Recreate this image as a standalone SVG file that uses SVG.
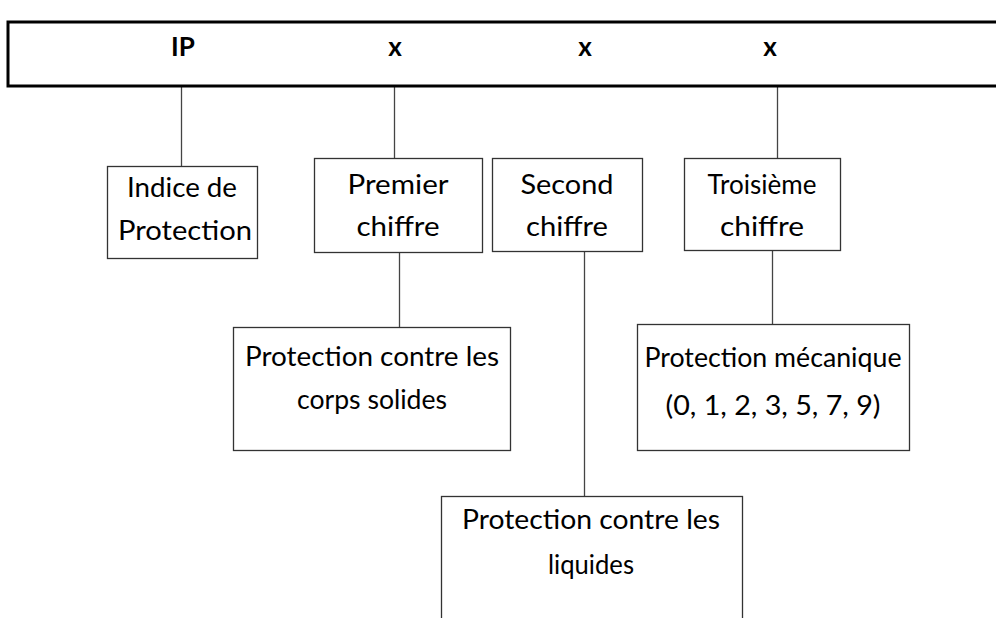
<svg xmlns="http://www.w3.org/2000/svg" width="996" height="618" viewBox="0 0 996 618">
<style>
.box{fill:#fff;stroke:#333;stroke-width:1.3}
.top{fill:#fff;stroke:#000;stroke-width:3}
.t{font-family:Lato,"Open Sans",sans-serif;font-size:26px;fill:#000;text-anchor:middle}
.b{font-family:Lato,"Open Sans",sans-serif;font-size:26px;font-weight:bold;fill:#000;text-anchor:middle}
.c{stroke:#444;stroke-width:1.3;fill:none}
</style>
<rect width="996" height="618" fill="#fff"/>
<g id="connectors">
<line class="c" x1="181.5" y1="86" x2="181.5" y2="166"/>
<line class="c" x1="394.5" y1="86" x2="394.5" y2="158"/>
<line class="c" x1="777.5" y1="86" x2="777.5" y2="158"/>
<line class="c" x1="399.5" y1="252" x2="399.5" y2="327"/>
<line class="c" x1="584.5" y1="251" x2="584.5" y2="496"/>
<line class="c" x1="772.5" y1="250" x2="772.5" y2="324"/>
</g>
<g id="ipbar">
<rect class="top" x="8" y="22" width="1000" height="64"/>
<text class="b" x="183" y="56">IP</text>
<text class="b" x="395" y="56">x</text>
<text class="b" x="585" y="56">x</text>
<text class="b" x="770" y="56">x</text>
</g>
<g id="indice">
<rect class="box" x="107.5" y="166.5" width="150" height="92"/>
<text class="t" x="182" y="197" textLength="110" lengthAdjust="spacingAndGlyphs">Indice de</text>
<text class="t" x="185" y="240" textLength="134" lengthAdjust="spacingAndGlyphs">Protection</text>
</g>
<g id="premier">
<rect class="box" x="314.5" y="158.5" width="168" height="94"/>
<text class="t" x="398" y="194" textLength="101" lengthAdjust="spacingAndGlyphs">Premier</text>
<text class="t" x="398" y="236" textLength="83" lengthAdjust="spacingAndGlyphs">chiffre</text>
</g>
<g id="second">
<rect class="box" x="492.5" y="158.5" width="150" height="93"/>
<text class="t" x="567" y="194" textLength="93" lengthAdjust="spacingAndGlyphs">Second</text>
<text class="t" x="567" y="236" textLength="82" lengthAdjust="spacingAndGlyphs">chiffre</text>
</g>
<g id="troisieme">
<rect class="box" x="684.5" y="158.5" width="156" height="92"/>
<text class="t" x="762" y="194" textLength="109" lengthAdjust="spacingAndGlyphs">Troisième</text>
<text class="t" x="762" y="236" textLength="84" lengthAdjust="spacingAndGlyphs">chiffre</text>
</g>
<g id="solides">
<rect class="box" x="233.5" y="327.5" width="277" height="123"/>
<text class="t" x="372" y="366" textLength="254" lengthAdjust="spacingAndGlyphs">Protection contre les</text>
<text class="t" x="372" y="409" textLength="150" lengthAdjust="spacingAndGlyphs">corps solides</text>
</g>
<g id="mecanique">
<rect class="box" x="637.5" y="324.5" width="272" height="126"/>
<text class="t" x="773" y="367" textLength="257" lengthAdjust="spacingAndGlyphs">Protection mécanique</text>
<text class="t" x="773" y="415" textLength="215" lengthAdjust="spacingAndGlyphs">(0, 1, 2, 3, 5, 7, 9)</text>
</g>
<g id="liquides">
<rect class="box" x="441.5" y="496.5" width="301" height="140"/>
<text class="t" x="591" y="529" textLength="258" lengthAdjust="spacingAndGlyphs">Protection contre les</text>
<text class="t" x="591" y="574" textLength="86" lengthAdjust="spacingAndGlyphs">liquides</text>
</g>
</svg>
